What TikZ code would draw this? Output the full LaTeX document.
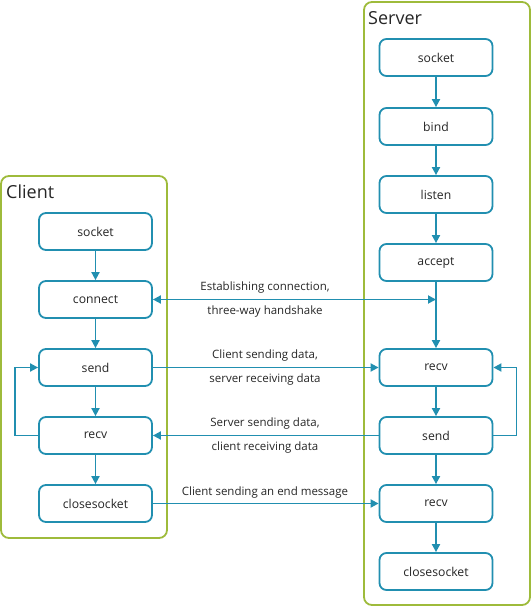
\documentclass[tikz,border=0pt]{standalone}
\usepackage{fontspec}
\setmainfont{Open Sans}
\usetikzlibrary{arrows.meta}
\definecolor{teal1}{RGB}{33,143,176}
\definecolor{green1}{RGB}{158,187,59}
\begin{document}
\begin{tikzpicture}[x=1pt,y=-1pt,
  box/.style={draw=teal1,line width=1.8pt,rounded corners=7pt,minimum width=113pt,minimum height=37pt,inner sep=0pt,font=\fontsize{12.2}{14}\selectfont,text=black!85,fill=white},
  cont/.style={draw=green1,line width=1.8pt,rounded corners=8pt},
  arr/.style={draw=teal1,line width=1.8pt,-{Triangle[length=8pt,width=8pt]}},
  lbl/.style={font=\fontsize{11.5}{13}\selectfont,text=black!85,inner sep=0pt},
  title/.style={font=\fontsize{18}{21}\selectfont,text=black!85,inner sep=0pt,anchor=west}]
\useasboundingbox (0,0) rectangle (532,608);
% containers
\draw[cont] (1,176) rectangle (167,538);
\draw[cont] (364,2) rectangle (530,605);
\node[title] (ctitle) at (6,192) {Client};
\node[title] (stitle) at (368,18) {Server};
% client boxes
\node[box] (csocket) at (95.5,231.5) {socket};
\node[box] (cconnect) at (95.5,299.5) {connect};
\node[box] (csend) at (95.5,367.5) {send};
\node[box] (crecv) at (95.5,435.5) {recv};
\node[box] (cclose) at (95.5,503.5) {closesocket};
% server boxes
\node[box] (ssocket) at (436,57.5) {socket};
\node[box] (sbind) at (436,126.5) {bind};
\node[box] (slisten) at (436,194.5) {listen};
\node[box] (saccept) at (436,262.5) {accept};
\node[box] (srecv) at (436,367.5) {recv};
\node[box] (ssend) at (436,435.5) {send};
\node[box] (srecv2) at (436,503.5) {recv};
\node[box] (sclose) at (436,571.5) {closesocket};
% vertical arrows
\draw[arr] (csocket) -- (cconnect);
\draw[arr] (cconnect) -- (csend);
\draw[arr] (csend) -- (crecv);
\draw[arr] (crecv) -- (cclose);
\draw[arr] (ssocket) -- (sbind);
\draw[arr] (sbind) -- (slisten);
\draw[arr] (slisten) -- (saccept);
\draw[arr] (saccept) -- (srecv);
\draw[arr] (srecv) -- (ssend);
\draw[arr] (ssend) -- (srecv2);
\draw[arr] (srecv2) -- (sclose);
% horizontal
\coordinate (hs) at (436,299.5);
\draw[arr,{Triangle[length=8pt,width=8pt]}-{Triangle[length=8pt,width=8pt]}] (cconnect.east) -- (hs);
\draw[arr] (csend.east) -- (srecv.west);
\draw[arr] (ssend.west) -- (crecv.east);
\draw[arr] (cclose.east) -- (srecv2.west);
% loops
\draw[arr] (crecv.west) -- ++(-23,0) |- (csend.west);
\draw[arr] (ssend.east) -- ++(23,0) |- (srecv.east);
% labels
\node[lbl] (l1a) at (265,288) {Establishing connection,};
\node[lbl] (l1b) at (265,312) {three-way handshake};
\node[lbl] (l2a) at (265,356) {Client sending data,};
\node[lbl] (l2b) at (265,380) {server receiving data};
\node[lbl] (l3a) at (265,424) {Server sending data,};
\node[lbl] (l3b) at (265,448) {client receiving data};
\node[lbl] (l4) at (265,493) {Client sending an end message};
\end{tikzpicture}
\end{document}
